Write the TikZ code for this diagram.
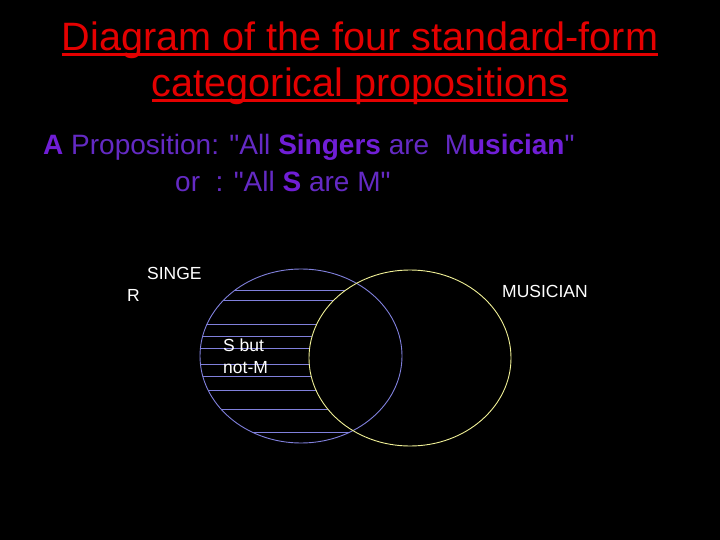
\documentclass[tikz,border=0pt]{standalone}
\usepackage{fontspec}
\setmainfont{Liberation Sans}
\newfontfamily\propfont{Liberation Sans}
\usetikzlibrary{positioning,calc}
\definecolor{titlered}{RGB}{228,0,0}
\definecolor{propnorm}{RGB}{100,42,196}
\definecolor{propbold}{RGB}{112,30,214}
\definecolor{setblue}{RGB}{128,128,220}
\definecolor{setyellow}{RGB}{240,240,150}

\begin{document}
\begin{tikzpicture}[x=1pt,y=-1pt,every node/.style={inner sep=0pt}]

%Define sizes of the two sets
\def\srx{101}          %x radius for SINGERS.
\def\sry{87}           %y radius for SINGERS.
\def\mrx{101}          %x radius for MUSICIAN.
\def\mry{88}           %y radius for MUSICIAN.

\tikzset{
  titletext/.style={text=titlered,font=\fontsize{39.6}{46}\selectfont},
  titlerule/.style={draw=titlered,line width=3pt},
  proptext/.style={text=propnorm,font=\propfont\fontsize{28}{32}\selectfont,anchor=base west},
  setlabel/.style={text=white,font=\fontsize{17.5}{22}\selectfont,anchor=base west},
  hatch/.style={draw=setblue,line width=1pt},
}
\newcommand{\pb}[1]{\textcolor{propbold}{\textbf{#1}}}

% Background.
    \fill[black] (0,0) rectangle (720,540);

% Define coordinates.
    \coordinate (sc) at (301,356);
    \coordinate (mc) at (410,358);

% Title
    \node[titletext,anchor=base] (title1) at (360,51) {Diagram of the four standard-form};
    \node[titletext,anchor=base] (title2) at (360,97) {categorical propositions};
    \draw[titlerule] ([yshift=-3.5pt]title1.base west) -- ([yshift=-3.5pt]title1.base east);
    \draw[titlerule] ([yshift=-3.5pt]title2.base west) -- ([yshift=-3.5pt]title2.base east);

% A proposition
    \node[proptext] (prop1) at (43,155) {\pb{A} Proposition: "All \pb{Singers} are~ M\pb{usician}"};
    \node[proptext] (prop2) at (175,192) {or~ : "All \pb{S} are M"};

% Hatching of S but not-M
    \begin{scope}
    \clip (sc) ellipse [x radius=\srx pt, y radius=\sry pt];
    \foreach \y in {290,300,324,336,348,364,376,390,409,432}
        \draw[hatch] (190,\y) -- (380,\y);
    \end{scope}
    \fill[black] (mc) ellipse [x radius=\mrx pt, y radius=\mry pt];

% SINGERS and MUSICIAN
    \draw[setblue,line width=0.9pt] (sc) ellipse [x radius=\srx pt, y radius=\sry pt];
    \draw[setyellow,line width=0.9pt] (mc) ellipse [x radius=\mrx pt, y radius=\mry pt];

% Labels
    \node[setlabel] (singe) at (147,279) {SINGE};
    \node[setlabel] (singr) at (127,301) {R};
    \node[setlabel] (musician) at (502,297) {MUSICIAN};
    \node[setlabel] (sbut) at (223,351) {S but};
    \node[setlabel] (notm) at (223,373) {not-M};

\end{tikzpicture}
\end{document}
